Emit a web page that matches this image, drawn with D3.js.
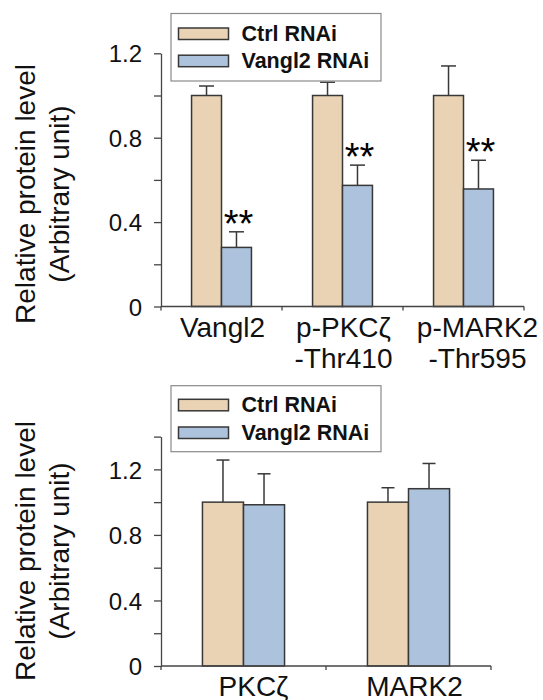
<!DOCTYPE html>
<html>
<head>
<meta charset="utf-8">
<script src="https://cdn.jsdelivr.net/npm/d3@7"></script>
<style>
  html, body { margin: 0; padding: 0; background: #fff; }
  svg { display: block; font-family: "Liberation Sans", Arial, Helvetica, sans-serif; }
</style>
</head>
<body>
<svg id="chart" width="543" height="700"></svg>
<script>
// ---------- data ----------
const seriesNames = ["Ctrl RNAi", "Vangl2 RNAi"];
const seriesColors = ["#ead3b4", "#adc3dd"];

const categoriesTop = [["Vangl2"], ["p-PKCζ", "-Thr410"], ["p-MARK2", "-Thr595"]];
const ctrlTop = [1.0, 1.0, 1.0];
const ctrlTopErr = [0.045, 0.063, 0.14];
const vanglTop = [0.28, 0.574, 0.557];
const vanglTopErr = [0.074, 0.096, 0.136];
const sigTop = ["**", "**", "**"];
const yTicksTop = [0, 0.2, 0.4, 0.6, 0.8, 1.0, 1.2];
const yLabelsTop = [0, 0.4, 0.8, 1.2];

const categoriesBottom = [["PKCζ"], ["MARK2"]];
const ctrlBottom = [1.0, 1.0];
const ctrlBottomErr = [0.257, 0.088];
const vanglBottom = [0.984, 1.082];
const vanglBottomErr = [0.189, 0.154];
const yTicksBottom = [0, 0.2, 0.4, 0.6, 0.8, 1.0, 1.2, 1.4];
const yLabelsBottom = [0, 0.4, 0.8, 1.2];

const yTitle = ["Relative protein level", "(Arbitrary unit)"];

// ---------- drawing ----------
const svg = d3.select("#chart");
const axisColor = "#444";
const barStroke = "#383838";

function panel(cfg) {
  const g = svg.append("g");
  const y = d3.scaleLinear().domain(cfg.yDomain).range([cfg.y0, cfg.y1]);
  const keys = cfg.cats.map((c, i) => "c" + i);
  const x0 = d3.scaleBand().domain(keys).range([cfg.xLeft, cfg.xRight]).padding(0);
  const x1 = d3.scaleBand().domain(seriesNames).range([0, x0.bandwidth()])
    .paddingInner(0).paddingOuter(cfg.subPad);

  const rows = [];
  keys.forEach((k, i) => {
    rows.push({k, s: 0, v: cfg.ctrl[i], e: cfg.ctrlErr[i]});
    rows.push({k, s: 1, v: cfg.vangl[i], e: cfg.vanglErr[i]});
  });

  // error bars (upper only)
  const eb = g.append("g").attr("stroke", barStroke).attr("stroke-width", 1.5);
  rows.forEach(r => {
    const cx = x0(r.k) + x1(seriesNames[r.s]) + x1.bandwidth() / 2;
    eb.append("line").attr("x1", cx).attr("x2", cx)
      .attr("y1", y(r.v)).attr("y2", y(r.v + r.e));
    eb.append("line").attr("x1", cx - cfg.cap / 2).attr("x2", cx + cfg.cap / 2)
      .attr("y1", y(r.v + r.e)).attr("y2", y(r.v + r.e));
  });

  // bars
  g.append("g").selectAll("rect").data(rows).join("rect")
    .attr("x", d => x0(d.k) + x1(seriesNames[d.s]))
    .attr("width", x1.bandwidth())
    .attr("y", d => y(d.v))
    .attr("height", d => y(0) - y(d.v))
    .attr("fill", d => seriesColors[d.s])
    .attr("stroke", barStroke)
    .attr("stroke-width", 1.5);

  // significance
  if (cfg.sig) {
    keys.forEach((k, i) => {
      const cx = x0(k) + x1(seriesNames[1]) + x1.bandwidth() / 2 + 2;
      g.append("text").attr("x", cx).attr("y", y(cfg.vangl[i] + cfg.vanglErr[i]) + 5)
        .attr("text-anchor", "middle").attr("font-size", 38).attr("fill", "#000")
        .text(cfg.sig[i]);
    });
  }

  // y axis
  const yAxis = d3.axisLeft(y).tickValues(cfg.yTicks).tickSize(7).tickSizeOuter(0)
    .tickPadding(12)
    .tickFormat(d => cfg.yLabels.some(v => Math.abs(v - d) < 1e-9) ? d3.format("")(+d.toFixed(1)) : "");
  const ya = g.append("g").attr("transform", `translate(${cfg.xLeft},0)`).call(yAxis);
  ya.select(".domain").attr("stroke", axisColor).attr("stroke-width", 1.3);
  ya.selectAll(".tick line").attr("stroke", axisColor).attr("stroke-width", 1.3);
  ya.selectAll(".tick text").attr("font-size", 24).attr("fill", "#111")
    .attr("font-family", "Liberation Sans, Arial, sans-serif").attr("dy", "0.36em");

  // x axis line + boundary ticks
  const xa = g.append("g").attr("stroke", axisColor).attr("stroke-width", 1.3);
  xa.append("line").attr("x1", cfg.xLeft).attr("x2", cfg.xRight).attr("y1", y(0)).attr("y2", y(0));
  const bounds = keys.map(k => x0(k)).concat([cfg.xRight]);
  bounds.forEach(b => xa.append("line").attr("x1", b).attr("x2", b).attr("y1", y(0)).attr("y2", y(0) + 4));

  // category labels
  keys.forEach((k, i) => {
    const cx = x0(k) + x0.bandwidth() / 2 + (cfg.labelShift ? cfg.labelShift[i] : 0);
    const t = g.append("text").attr("text-anchor", "middle").attr("font-size", 28).attr("fill", "#111");
    cfg.cats[i].forEach((line, j) => {
      t.append("tspan").attr("x", cx).attr("y", cfg.labelY + j * 30.5).text(line);
    });
  });

  // y title
  yTitle.forEach((line, j) => {
    g.append("text")
      .attr("transform", `translate(${cfg.titleX[j]},${cfg.titleY}) rotate(-90)`)
      .attr("text-anchor", "middle").attr("font-size", 28).attr("fill", "#111")
      .text(line);
  });

  // legend
  const lg = g.append("g");
  lg.append("rect").attr("x", 171).attr("y", cfg.legTop).attr("width", 210).attr("height", cfg.legH)
    .attr("fill", "#fff").attr("stroke", "#8a8a8a").attr("stroke-width", 1.2);
  seriesNames.forEach((n, i) => {
    lg.append("rect").attr("x", 178.5).attr("y", cfg.swY[i]).attr("width", 50).attr("height", 11.5)
      .attr("fill", seriesColors[i]).attr("stroke", barStroke).attr("stroke-width", 1.5);
    lg.append("text").attr("x", 241.5).attr("y", cfg.legTextY[i]).attr("font-size", 21.5)
      .attr("font-weight", "bold").attr("fill", "#111").text(n);
  });
}

panel({
  cats: categoriesTop, ctrl: ctrlTop, ctrlErr: ctrlTopErr, vangl: vanglTop, vanglErr: vanglTopErr,
  sig: sigTop, yTicks: yTicksTop, yLabels: yLabelsTop,
  yDomain: [0, 1.2], y0: 306.5, y1: 53.3, xLeft: 161, xRight: 524, subPad: 1.02, cap: 15,
  labelY: 337, labelShift: [1, 1, 14],
  titleX: [35, 69], titleY: 194,
  legTop: 13.5, legH: 67.5, swY: [28, 55.2], legTextY: [40.7, 68.3]
});

panel({
  cats: categoriesBottom, ctrl: ctrlBottom, ctrlErr: ctrlBottomErr, vangl: vanglBottom, vanglErr: vanglBottomErr,
  sig: null, yTicks: yTicksBottom, yLabels: yLabelsBottom,
  yDomain: [0, 1.4], y0: 666, y1: 436.6, xLeft: 161, xRight: 491, subPad: 1.01, cap: 13,
  labelY: 696, labelShift: [10, 6],
  titleX: [35, 69], titleY: 551,
  legTop: 385.7, legH: 66, swY: [399.3, 427], legTextY: [412.3, 440]
});
</script>
</body>
</html>
